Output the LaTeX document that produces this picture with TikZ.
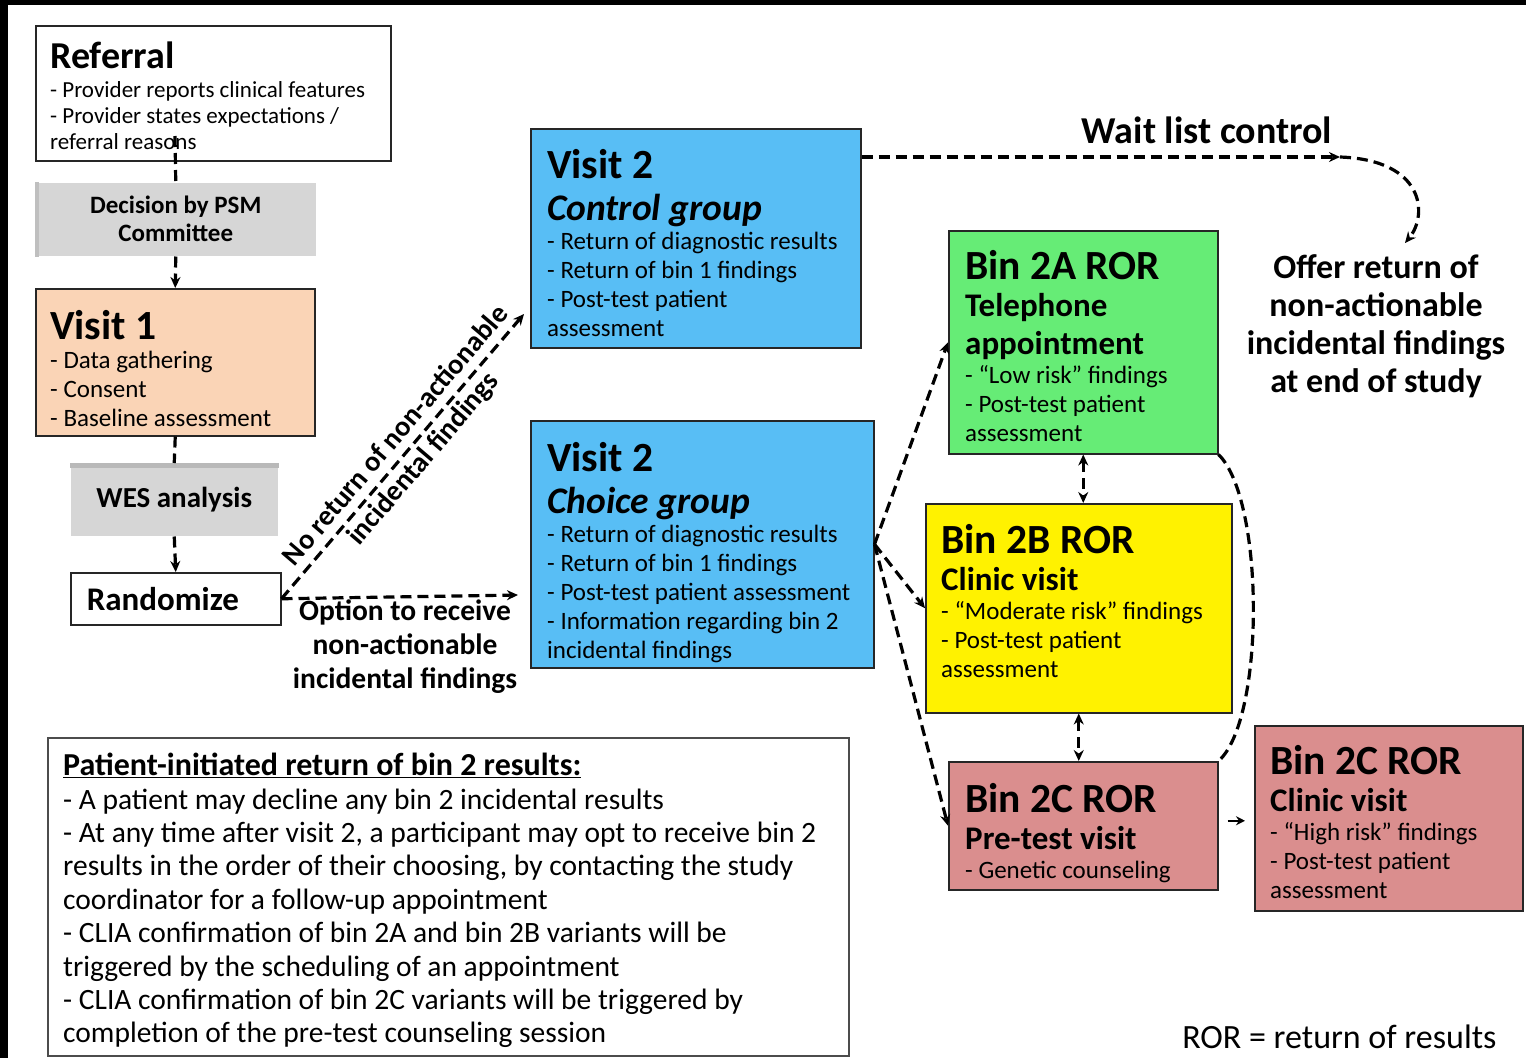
\documentclass[tikz,border=0pt]{standalone}
\usepackage{fontspec}
\setmainfont{Carlito}
\usetikzlibrary{arrows.meta,positioning}

\definecolor{peach}{RGB}{250,212,182}
\definecolor{skyblue}{RGB}{88,190,245}
\definecolor{mint}{RGB}{102,236,118}
\definecolor{rose}{RGB}{218,142,142}
\definecolor{lightgrey}{RGB}{214,214,214}

\newcommand\fixsp{\spaceskip=0pt\xspaceskip=0pt}
\newcommand\ttl{\fontsize{41.5}{44}\selectfont\normalfont\bfseries\fixsp}
\newcommand\subttl{\fontsize{33}{37.5}\selectfont\normalfont\bfseries\fixsp}
\newcommand\grpttl{\fontsize{37.5}{42}\selectfont\normalfont\bfseries\itshape\fixsp}
\newcommand\bdy{\fontsize{25}{29}\selectfont\normalfont\fixsp}

\begin{document}
\begin{tikzpicture}[x=1pt,y=-1pt,
  box/.style={draw=black!85,line width=1.5pt,anchor=north west,inner sep=0pt},
  txt/.style={anchor=north west,inner sep=0pt,align=left},
  link/.style={draw,line width=3.2pt,dash pattern=on 11pt off 6pt},
  tip/.style={-{Stealth[length=11pt,width=10pt]}},
  tips/.style={{Stealth[length=11pt,width=10pt]}-{Stealth[length=11pt,width=10pt]}}]

\useasboundingbox (0,0) rectangle (1526,1058);
\fill[white] (0,0) rectangle (1526,1058);

% left column
\node[box,minimum width=355pt,minimum height=135pt] (referral) at (35,25) {};
\node[box,draw=none,fill=lightgrey,minimum width=280pt,minimum height=73pt,
  align=center,font=\fontsize{25}{28}\selectfont\bfseries] (decision) at (35,182) {Decision by PSM\\Committee};
\node[box,fill=peach,minimum width=279pt,minimum height=147pt] (visit1) at (35,288) {};
\node[box,draw=none,fill=lightgrey,minimum width=207pt,minimum height=72pt,
  font=\fontsize{29}{32}\selectfont\bfseries] (wes) at (70,463) {WES analysis};
\node[box,minimum height=52pt,text width=178pt,inner xsep=16pt,align=left,
  font=\fontsize{33}{36}\selectfont\bfseries] (random) at (70,572) {Randomize};

\fill[gray!50] (decision.north west) rectangle ([xshift=4pt]decision.south west);
\fill[gray!55] (wes.north west) rectangle ([yshift=-5pt]wes.north east);

\node[txt,text width=340pt] (referral-txt) at (50,42) {\fontsize{38}{40}\selectfont\bfseries\fixsp Referral\par
  \vspace{3pt}\fontsize{23}{26}\selectfont\normalfont\fixsp - Provider reports clinical features\par
  - Provider states expectations /\par referral reasons\par};
\node[txt,text width=265pt] (visit1-txt) at (50,310) {\ttl Visit 1\par
  \bdy - Data gathering\par - Consent\par - Baseline assessment\par};

% visit 2 boxes
\node[box,fill=skyblue,minimum width=330pt,minimum height=219pt] (control) at (530,128) {};
\node[box,fill=skyblue,minimum width=343pt,minimum height=247pt] (choice) at (530,420) {};
\node[txt,text width=315pt] (control-txt) at (547,149) {\ttl Visit 2\par
  \grpttl Control group\par
  \bdy - Return of diagnostic results\par - Return of bin 1 findings\par
  - Post-test patient\par assessment\par};
\node[txt,text width=330pt] (choice-txt) at (547,442) {\ttl Visit 2\par
  \grpttl Choice group\par
  \bdy - Return of diagnostic results\par - Return of bin 1 findings\par
  - Post-test patient assessment\par - Information regarding bin 2\par
  incidental findings\par};

% bin 2 boxes
\node[box,fill=mint,minimum width=269pt,minimum height=223pt] (bin2a) at (948,230) {};
\node[box,fill=yellow,minimum width=306pt,minimum height=209pt] (bin2b) at (925,503) {};
\node[box,fill=rose,minimum width=269pt,minimum height=128pt] (bin2cpre) at (948,761) {};
\node[box,fill=rose,minimum width=268pt,minimum height=185pt] (bin2cclin) at (1254,725) {};

\node[txt,text width=250pt] (bin2a-txt) at (965,250) {\ttl Bin 2A ROR\par
  \subttl Telephone\par appointment\par
  \bdy - “Low risk” findings\par - Post-test patient\par assessment\par};
\node[txt,text width=290pt] (bin2b-txt) at (941,524) {\ttl Bin 2B ROR\par
  \subttl Clinic visit\par
  \bdy - “Moderate risk” findings\par - Post-test patient\par assessment\par};
\node[txt,text width=250pt] (bin2cpre-txt) at (965,783) {\ttl Bin 2C ROR\par
  \subttl Pre-test visit\par
  \bdy - Genetic counseling\par};
\node[txt,text width=250pt] (bin2cclin-txt) at (1270,745) {\ttl Bin 2C ROR\par
  \subttl Clinic visit\par
  \bdy - “High risk” findings\par - Post-test patient\par assessment\par};

% notes
\node[box,draw=black!70,minimum width=801pt,minimum height=318pt] (patient) at (47,737) {};
\node[txt,text width=780pt] (patient-txt) at (63,753) {\fontsize{32}{34}\selectfont\bfseries\fixsp
  \underline{Patient-initiated return of bin 2 results:}\par
  \fontsize{29.5}{33.4}\selectfont\normalfont\fixsp
  - A patient may decline any bin 2 incidental results\par
  - At any time after visit 2, a participant may opt to receive bin 2\par
  results in the order of their choosing, by contacting the study\par
  coordinator for a follow-up appointment\par
  - CLIA confirmation of bin 2A and bin 2B variants will be\par
  triggered by the scheduling of an appointment\par
  - CLIA confirmation of bin 2C variants will be triggered by\par
  completion of the pre-test counseling session\par};

\node[anchor=base,font=\fontsize{38}{42}\selectfont\bfseries] (waitlist) at (1207,143) {Wait list control};
\node[align=center,font=\fontsize{34}{38}\selectfont\bfseries] (offer) at (1376,326)
  {Offer return of\\non-actionable\\incidental findings\\at end of study};
\node[align=center,font=\fontsize{29.5}{34}\selectfont\bfseries] (option) at (405,647)
  {Option to receive\\non-actionable\\incidental findings};
\node[anchor=base east,font=\fontsize{34}{37}\selectfont] (legend) at (1500,1048) {ROR = return of results};

% connectors
\coordinate (ref-out) at (175,136);
\coordinate (ctl-in) at (524,314);
\coordinate (chc-in) at (518,595);
\coordinate (wl-end) at (1340,157);
\coordinate (offer-in) at (1405,243);

\draw[link] (ref-out) -- (decision.north);
\draw[link,tip] (decision.south) -- (visit1.north);
\draw[link] (visit1.south) -- (wes.north);
\draw[link,tip] (wes.south) -- (random.north);

\draw[link,tip] (random.east) -- node[pos=0.53,sloped,align=center,
  font=\fontsize{28.5}{32}\selectfont\bfseries] (noreturn) {No return of non-actionable\\[4pt]incidental findings} (ctl-in);
\draw[link,tip] (random.east) -- (chc-in);

\draw[link,tip] (control.north east |- wl-end) -- (wl-end);
\draw[link,tip] (wl-end) .. controls (1425,160) and (1428,215) .. (offer-in);

\draw[link,tip] (choice.east) -- (bin2a.west);
\draw[link,tip] (choice.east) -- (bin2b.west);
\draw[link,tip] (choice.east) -- (bin2cpre.west);

\draw[link,tips] (bin2a.south) -- (bin2a.south |- bin2b.north);
\draw[link,tips] (bin2b.south) -- (bin2b.south |- bin2cpre.north);
\draw[link] (bin2a.south east) .. controls (1265,500) and (1265,720) .. (bin2cpre.north east);
\draw[line width=2.4pt,-{Stealth[length=9pt,width=9pt]}] ([xshift=9pt,yshift=5pt]bin2cpre.east) -- ([xshift=-9pt,yshift=5pt]bin2cclin.west |- bin2cpre.east);

% scan edges
\fill[black] (0,0) rectangle (1526,5);
\fill[black] (0,0) rectangle (8,1058);
\end{tikzpicture}
\end{document}
